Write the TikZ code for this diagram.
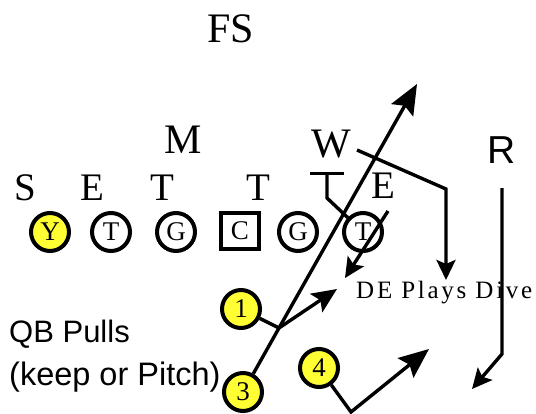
\documentclass[tikz,border=0pt]{standalone}
\usepackage{fontspec}
\setmainfont{Liberation Serif}
\newfontfamily\arialfont{Liberation Sans}
\usetikzlibrary{positioning, arrows.meta}
\definecolor{playyellow}{HTML}{FFFF33}
\definecolor{playink}{HTML}{000000}

\begin{document}
\begin{tikzpicture}[
        x=1pt, y=-1pt,
        every node/.style={inner sep=0pt, text=playink},
        defense/.style={
          font=\fontsize{39}{39}\selectfont, anchor=base,
        },
        linebacker/.style={
          font=\fontsize{42}{42}\selectfont, anchor=base,
        },
        player/.style={
          circle, draw=playink, line width=4pt,
          fill=white, minimum size=38pt,
          font=\fontsize{27}{27}\selectfont,
        },
        snapbox/.style={
          player, rectangle, minimum width=38pt, minimum height=36pt,
        },
        back/.style={
          player, fill=playyellow,
        },
        route/.style={
          line width=3.4pt, draw=playink,
          -{Stealth[length=20pt, width=19pt, inset=4pt]},
        },
        midroute/.style={
          route, -{Stealth[length=25pt, width=22pt, inset=5pt]},
        },
        longroute/.style={
          route, -{Stealth[length=30pt, width=25pt, inset=5pt]},
        },
        blockline/.style={
          line width=3.4pt, draw=playink, -{Bar[width=34pt]},
        },
        caption/.style={
          font=\arialfont\fontsize{31}{31}\selectfont, anchor=base west,
        },
      ]
      \useasboundingbox (0,0) rectangle (536,413);

      % defense
      \node[linebacker] (fs) at (231,42) {FS};
      \node[linebacker] (mlb) at (183,153) {M};
      \node[linebacker] (wlb) at (331,157) {W};
      \node[caption, anchor=base, font=\arialfont\fontsize{39}{39}\selectfont] (rov) at (502,163) {R};
      \node[defense] (ss) at (25,200) {S};
      \node[defense] (le) at (92,200) {E};
      \node[defense] (lt) at (162,200) {T};
      \node[defense] (rt) at (258,200) {T};
      \node[defense] (re) at (383,198) {E};

      % offensive line
      \node[back] (ye) at (50,232) {Y};
      \node[player] (ltk) at (111,232) {T};
      \node[player] (lg) at (176,232) {G};
      \node[snapbox] (ctr) at (240,231) {C};
      \node[player] (rg) at (298,232) {G};
      \node[player] (rtk) at (363,232) {T};

      % backs
      \node[back] (b1) at (241,309) {1};
      \node[back] (b3) at (243,392) {3};
      \node[back] (b4) at (319,368) {4};

      \node[anchor=base west, font=\fontsize{25}{25}\selectfont\addfontfeature{LetterSpace=11}] (dive) at (356,298) {DE Plays Dive};
      \node[caption] (qb) at (9,342) {QB Pulls};
      \node[caption, font=\arialfont\fontsize{32.5}{32.5}\selectfont] (keep) at (9,385) {(keep or Pitch)};

      \coordinate (fork) at (279,328);
      \coordinate (qbtip) at (417,84);
      \coordinate (tip1) at (337,289);
      \coordinate (turn4) at (351,412);
      \coordinate (tip4) at (429,349);
      \coordinate (rtop) at (502,188);
      \coordinate (rturn) at (502,354);
      \coordinate (rtip) at (472,389);
      \coordinate (wstart) at (357,150);
      \coordinate (wturn) at (446,189);
      \coordinate (wtip) at (446,280);
      \coordinate (estart) at (388,211);
      \coordinate (etip) at (345,278);
      \coordinate (blk) at (327,198);
      \coordinate (blktop) at (327,172);

      % routes
      \draw[longroute] (b3) -- (fork) -- (qbtip);
      \draw[midroute] (b1) -- (fork) -- (tip1);
      \draw[longroute] (b4) -- (turn4) -- (tip4);
      \draw[route] (rtop) -- (rturn) -- (rtip);
      \draw[route] (wstart) -- (wturn) -- (wtip);
      \draw[route] (estart) -- (etip);
      \draw[blockline] (rtk) -- (blk) -- (blktop);
    \end{tikzpicture}
\end{document}
